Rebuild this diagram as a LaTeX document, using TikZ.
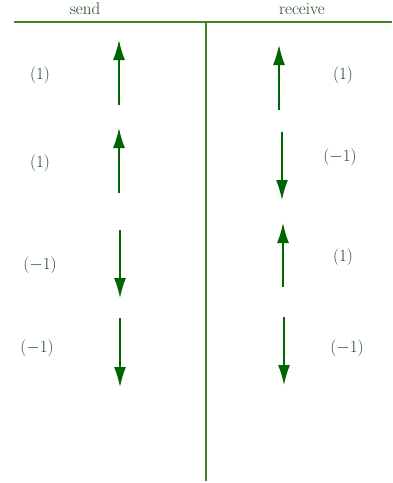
\documentclass[tikz,border=0pt]{standalone}
\usetikzlibrary{arrows.meta}
\definecolor{arr}{RGB}{0,100,0}
\definecolor{frame}{RGB}{70,130,40}
\definecolor{lab}{RGB}{30,72,35}
\begin{document}
\begin{tikzpicture}[x=1pt,y=-1pt,
  lbl/.style={text=lab,font=\fontsize{17}{20}\selectfont,inner sep=0pt},
  head/.style={text=lab,font=\fontsize{17}{20}\selectfont,inner sep=0pt,anchor=base},
  arrw/.style={draw=arr,line width=1.4pt,-{Latex[length=20pt,width=12pt]}},
  framel/.style={draw=frame,line width=1.3pt}]
\useasboundingbox (0,0) rectangle (392,483);
% headers
\node[head] (hs) at (85,14) {send};
\node[head] (hr) at (302,14) {receive};
% frame
\coordinate (hl) at (14,22);
\coordinate (hrr) at (392,22);
\coordinate (vt) at (206,22);
\coordinate (vb) at (206,481);
\draw[framel] (hl) -- (hrr);
\draw[framel] (vt) -- (vb);
% send side
\coordinate (s1a) at (119,105); \coordinate (s1b) at (119,40);
\coordinate (s2a) at (119,193); \coordinate (s2b) at (119,128);
\coordinate (s3a) at (120,230); \coordinate (s3b) at (120,298);
\coordinate (s4a) at (120,318); \coordinate (s4b) at (120,387);
\draw[arrw] (s1a) -- (s1b);
\draw[arrw] (s2a) -- (s2b);
\draw[arrw] (s3a) -- (s3b);
\draw[arrw] (s4a) -- (s4b);
\node[lbl] (l1) at (40,75) {(1)};
\node[lbl] (l2) at (40,163) {(1)};
\node[lbl] (l3) at (40,265) {($-$1)};
\node[lbl] (l4) at (37,348) {($-$1)};
% receive side
\coordinate (r1a) at (279,110); \coordinate (r1b) at (279,45);
\coordinate (r2a) at (282,132); \coordinate (r2b) at (282,200);
\coordinate (r3a) at (283,287); \coordinate (r3b) at (283,223);
\coordinate (r4a) at (284,317); \coordinate (r4b) at (284,385);
\draw[arrw] (r1a) -- (r1b);
\draw[arrw] (r2a) -- (r2b);
\draw[arrw] (r3a) -- (r3b);
\draw[arrw] (r4a) -- (r4b);
\node[lbl] (m1) at (343,75) {(1)};
\node[lbl] (m2) at (340,157) {($-$1)};
\node[lbl] (m3) at (343,257) {(1)};
\node[lbl] (m4) at (347,348) {($-$1)};
\end{tikzpicture}
\end{document}
